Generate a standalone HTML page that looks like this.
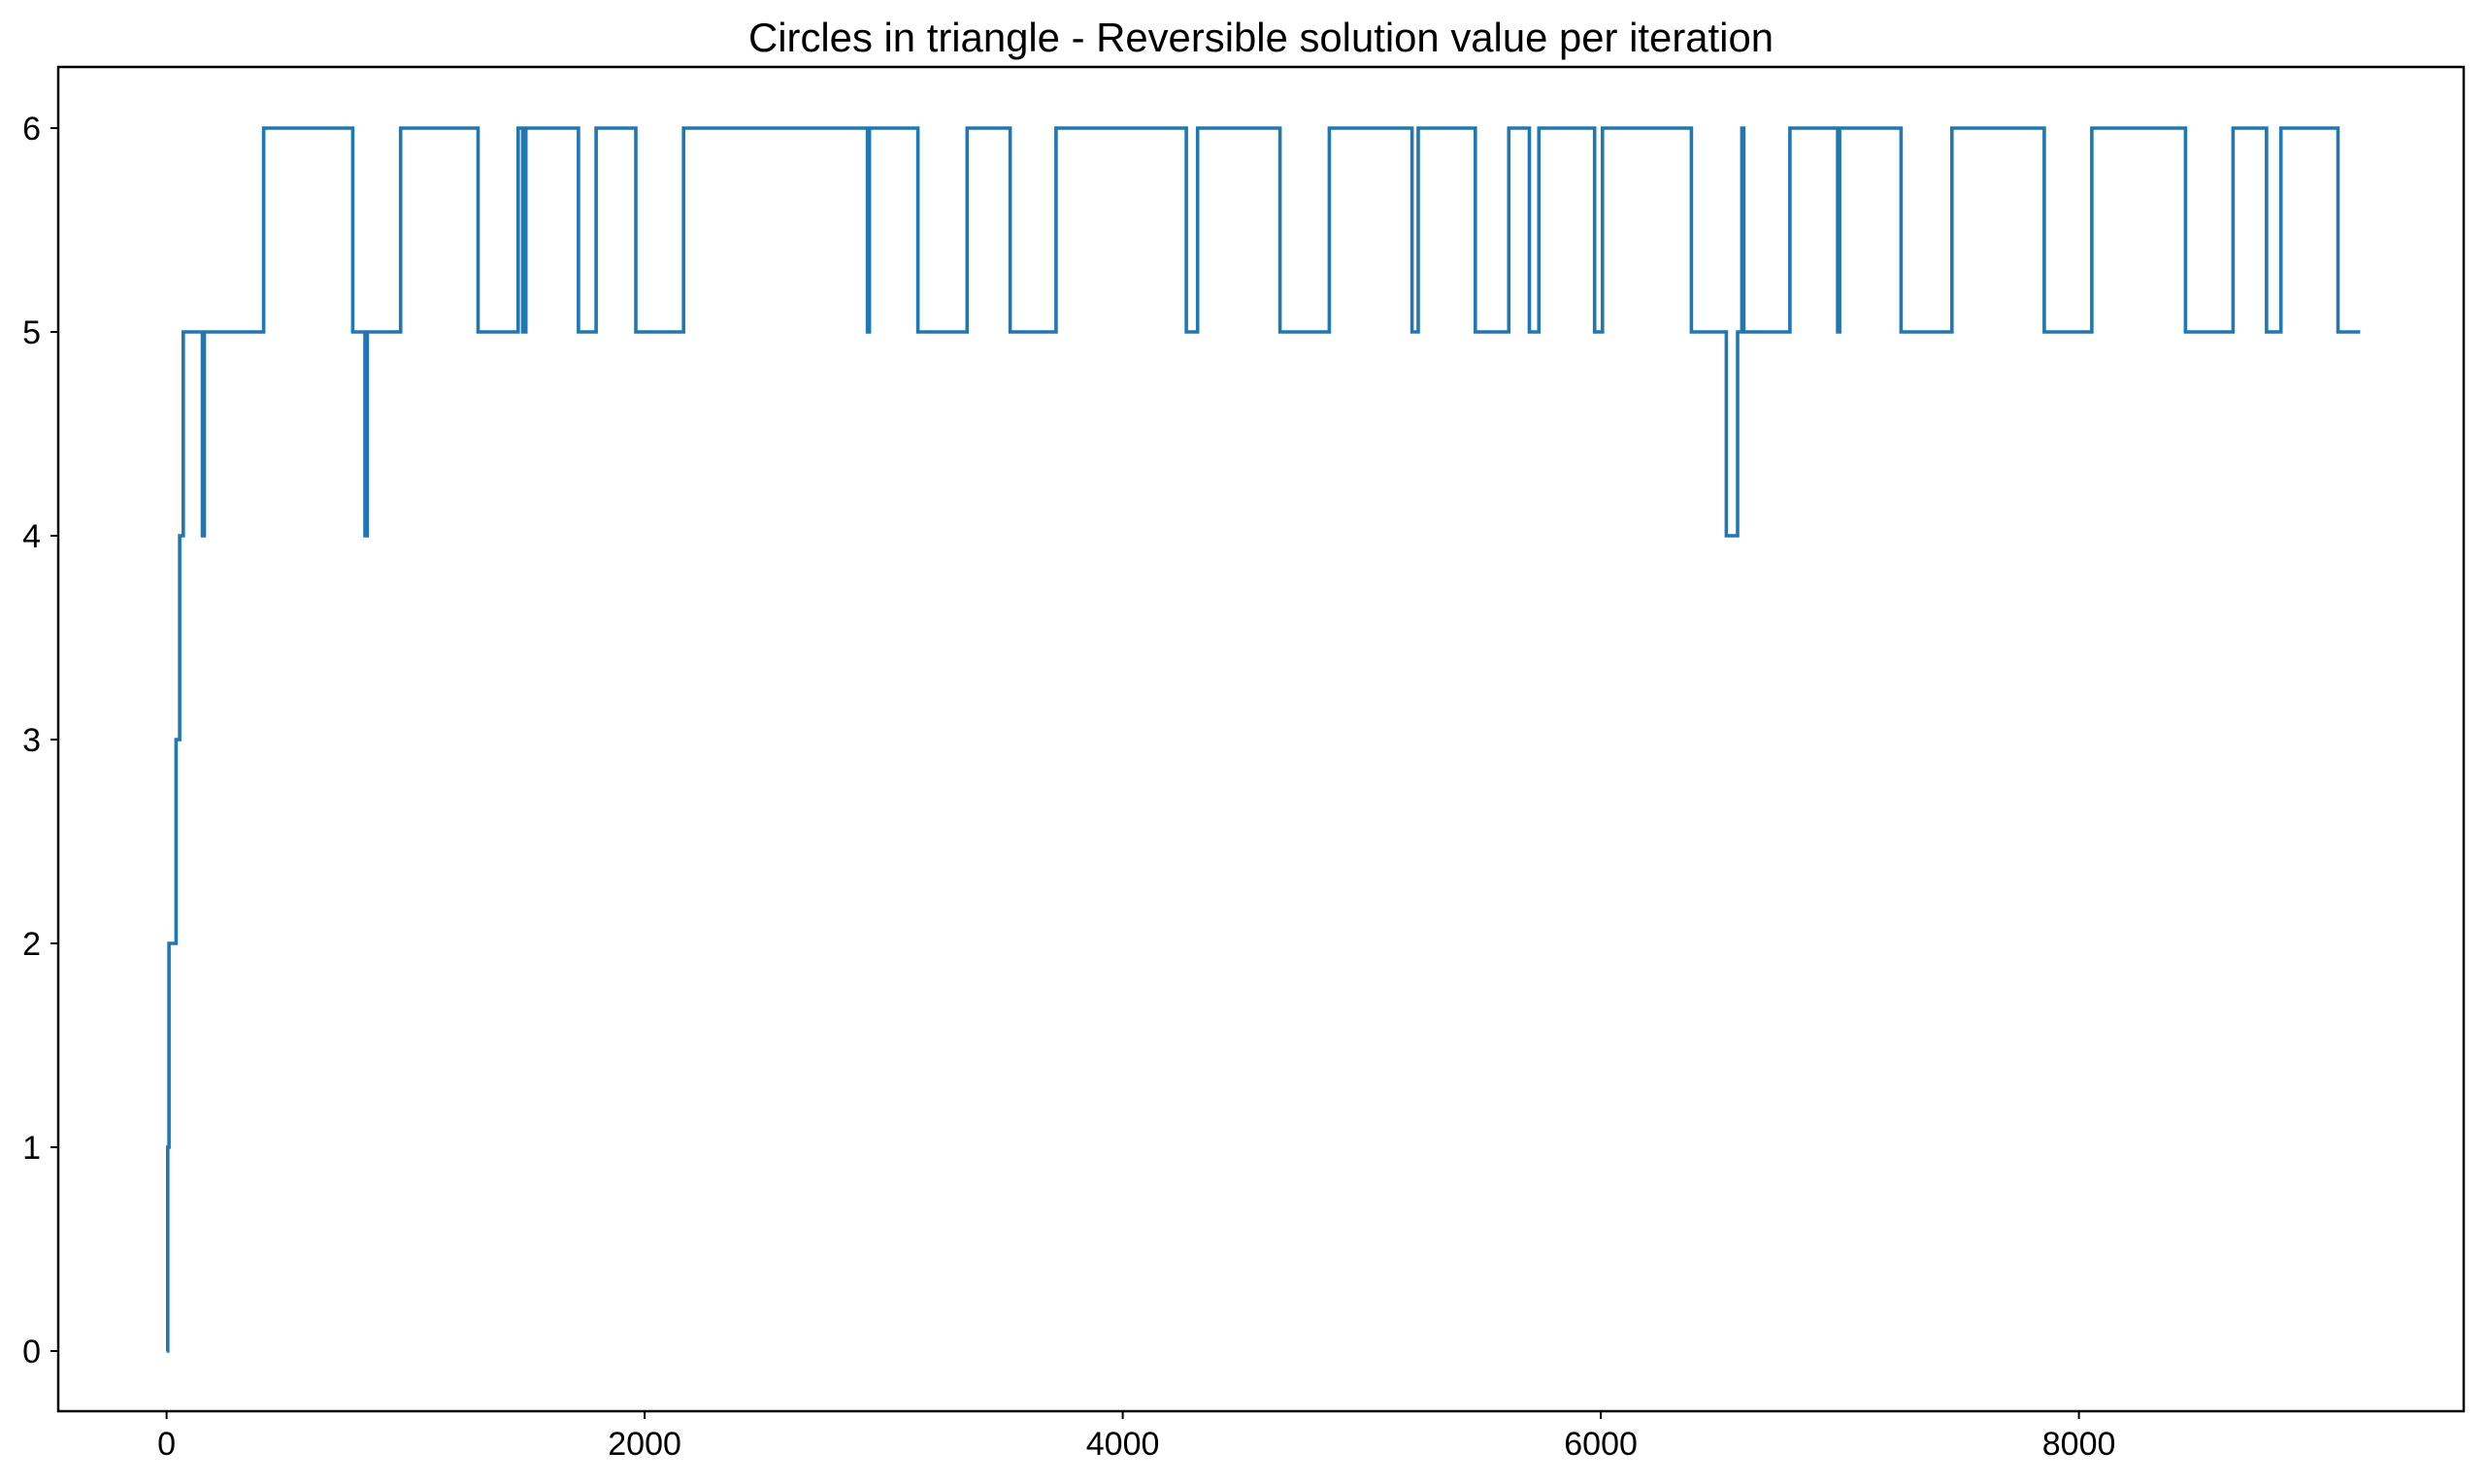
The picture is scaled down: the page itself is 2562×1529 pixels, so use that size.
<!DOCTYPE html>
<html><head><meta charset="utf-8"><style>
html,body{margin:0;padding:0;background:#fff;}
svg{display:block;}
text{font-family:"Liberation Sans",sans-serif;fill:#000;}
</style></head><body>
<svg id="chart" width="2562" height="1529" viewBox="0 0 2562 1529" xmlns="http://www.w3.org/2000/svg">
<rect x="0" y="0" width="2562" height="1529" fill="#fff"/>
<text x="1299" y="53" font-size="42" text-anchor="middle" textLength="1056" lengthAdjust="spacingAndGlyphs">Circles in triangle - Reversible solution value per iteration</text>
<g id="xticks"></g><g id="yticks"></g>
<path id="series" fill="none" stroke="#1f77b4" stroke-width="3.6" stroke-linejoin="miter"/>
<rect x="60" y="69" width="2478" height="1385" fill="none" stroke="#000" stroke-width="2.5"/>
</svg>
<script>
const stepX = [0,5,10,40,55,70,150,158,406,779,830,840,979,1303,1471,1490,1503,1723,1797,1963,2163,2932,2940,3143,3349,3529,3721,4266,4313,4658,4864,5210,5236,5475,5615,5701,5741,5974,6007,6379,6525,6572,6590,6598,6791,6991,6999,7256,7469,7855,8054,8446,8645,8785,8845,9084];
const stepY = [0,1,2,3,4,5,4,5,6,5,4,5,6,5,6,5,6,5,6,5,6,5,6,5,6,5,6,5,6,5,6,5,6,5,6,5,6,5,6,5,4,5,6,5,6,5,6,5,6,5,6,5,6,5,6,5];
const xEnd = 9177;
const xTickVals = [0,2000,4000,6000,8000];
const yTickVals = [0,1,2,3,4,5,6];

const X0=171.6, XK=0.24625, Y0=1392, YK=210;
function sx(v){return X0+v*XK;}
function sy(v){return Y0-v*YK;}
const NS="http://www.w3.org/2000/svg";

let d="";
for(let i=0;i<stepY.length;i++){
  const x1=sx(stepX[i]), x2=sx(i+1<stepX.length?stepX[i+1]:xEnd), y=sy(stepY[i]);
  d+=(i===0?"M":"L")+x1.toFixed(1)+","+y.toFixed(1)+"L"+x2.toFixed(1)+","+y.toFixed(1);
}
document.getElementById('series').setAttribute('d',d);

const xg=document.getElementById('xticks');
xTickVals.forEach(v=>{
  const l=document.createElementNS(NS,'line');
  l.setAttribute('x1',sx(v));l.setAttribute('x2',sx(v));l.setAttribute('y1',1454);l.setAttribute('y2',1462);
  l.setAttribute('stroke','#000');l.setAttribute('stroke-width','2');
  
  
  xg.appendChild(l);
  const t=document.createElementNS(NS,'text');
  t.setAttribute('x',sx(v));t.setAttribute('y',1499);t.setAttribute('font-size','34');t.setAttribute('text-anchor','middle');
  
  
  t.textContent=v;
  xg.appendChild(t);
});
const yg=document.getElementById('yticks');
yTickVals.forEach(v=>{
  const l=document.createElementNS(NS,'line');
  l.setAttribute('x1',52);l.setAttribute('x2',60);l.setAttribute('y1',sy(v));l.setAttribute('y2',sy(v));
  l.setAttribute('stroke','#000');l.setAttribute('stroke-width','2');
  
  
  yg.appendChild(l);
  const t=document.createElementNS(NS,'text');
  t.setAttribute('x',42);t.setAttribute('y',sy(v)+12);t.setAttribute('font-size','34');t.setAttribute('text-anchor','end');
  
  
  t.textContent=v;
  yg.appendChild(t);
});
</script>
</body></html>
